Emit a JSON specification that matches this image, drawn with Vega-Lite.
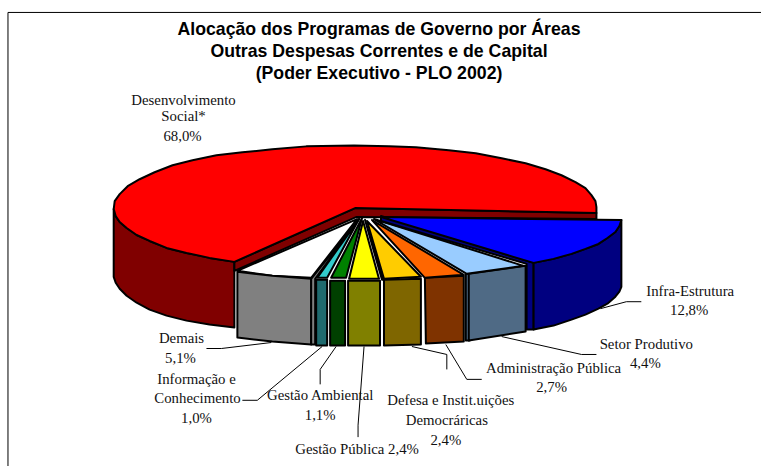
{
"$schema":"https://vega.github.io/schema/vega-lite/v6.json",
"width":763,"height":468,"padding":0,"autosize":{"type":"fit","contains":"padding"},
"background":"white","view":{"stroke":null},
"datasets":{
"faces":[
{"f":"Social lateral","o":1,"x":114,"y":210},{"f":"Social lateral","o":2,"x":116,"y":217},{"f":"Social lateral","o":3,"x":120,"y":223},{"f":"Social lateral","o":4,"x":127,"y":229},{"f":"Social lateral","o":5,"x":137,"y":236},{"f":"Social lateral","o":6,"x":150,"y":242},{"f":"Social lateral","o":7,"x":167,"y":249},{"f":"Social lateral","o":8,"x":187,"y":254},{"f":"Social lateral","o":9,"x":210,"y":259},{"f":"Social lateral","o":10,"x":235,"y":263},{"f":"Social lateral","o":11,"x":235,"y":329},{"f":"Social lateral","o":12,"x":210,"y":326},{"f":"Social lateral","o":13,"x":187,"y":322},{"f":"Social lateral","o":14,"x":167,"y":317},{"f":"Social lateral","o":15,"x":150,"y":311},{"f":"Social lateral","o":16,"x":137,"y":304},{"f":"Social lateral","o":17,"x":127,"y":297},{"f":"Social lateral","o":18,"x":120,"y":290},{"f":"Social lateral","o":19,"x":116,"y":284},{"f":"Social lateral","o":20,"x":114,"y":278},
{"f":"Social corte","o":1,"x":356,"y":209},{"f":"Social corte","o":2,"x":598,"y":214},{"f":"Social corte","o":3,"x":598,"y":220},{"f":"Social corte","o":4,"x":357,"y":218},{"f":"Social corte","o":5,"x":235,"y":272},{"f":"Social corte","o":6,"x":235,"y":263},
{"f":"Social topo","o":1,"x":356,"y":209},{"f":"Social topo","o":2,"x":598,"y":214},{"f":"Social topo","o":3,"x":598,"y":208},{"f":"Social topo","o":4,"x":597,"y":202},{"f":"Social topo","o":5,"x":593,"y":196},{"f":"Social topo","o":6,"x":587,"y":189},{"f":"Social topo","o":7,"x":577,"y":183},{"f":"Social topo","o":8,"x":563,"y":176},{"f":"Social topo","o":9,"x":547,"y":170},{"f":"Social topo","o":10,"x":527,"y":164},{"f":"Social topo","o":11,"x":503,"y":159},{"f":"Social topo","o":12,"x":477,"y":154},{"f":"Social topo","o":13,"x":450,"y":151},{"f":"Social topo","o":14,"x":417,"y":148},{"f":"Social topo","o":15,"x":390,"y":147},{"f":"Social topo","o":16,"x":355,"y":146},{"f":"Social topo","o":17,"x":307,"y":147},{"f":"Social topo","o":18,"x":273,"y":150},{"f":"Social topo","o":19,"x":243,"y":153},{"f":"Social topo","o":20,"x":217,"y":156},{"f":"Social topo","o":21,"x":193,"y":161},{"f":"Social topo","o":22,"x":173,"y":166},{"f":"Social topo","o":23,"x":155,"y":173},{"f":"Social topo","o":24,"x":140,"y":180},{"f":"Social topo","o":25,"x":128,"y":187},{"f":"Social topo","o":26,"x":120,"y":195},{"f":"Social topo","o":27,"x":115,"y":202},{"f":"Social topo","o":28,"x":114,"y":210},{"f":"Social topo","o":29,"x":116,"y":217},{"f":"Social topo","o":30,"x":120,"y":223},{"f":"Social topo","o":31,"x":127,"y":229},{"f":"Social topo","o":32,"x":137,"y":236},{"f":"Social topo","o":33,"x":150,"y":242},{"f":"Social topo","o":34,"x":167,"y":249},{"f":"Social topo","o":35,"x":187,"y":254},{"f":"Social topo","o":36,"x":210,"y":259},{"f":"Social topo","o":37,"x":235,"y":263},
{"f":"Demais topo","o":1,"x":358,"y":220},{"f":"Demais topo","o":2,"x":312,"y":279},{"f":"Demais topo","o":3,"x":273,"y":277},{"f":"Demais topo","o":4,"x":238,"y":272},
{"f":"Demais lateral","o":1,"x":238,"y":273},{"f":"Demais lateral","o":2,"x":273,"y":277},{"f":"Demais lateral","o":3,"x":312,"y":280},{"f":"Demais lateral","o":4,"x":312,"y":346},{"f":"Demais lateral","o":5,"x":273,"y":343},{"f":"Demais lateral","o":6,"x":238,"y":339},
{"f":"Demais corte","o":1,"x":360,"y":220},{"f":"Demais corte","o":2,"x":316,"y":280},{"f":"Demais corte","o":3,"x":316,"y":346},{"f":"Demais corte","o":4,"x":312,"y":346},{"f":"Demais corte","o":5,"x":312,"y":280},
{"f":"Informacao lateral","o":1,"x":317,"y":281},{"f":"Informacao lateral","o":2,"x":328,"y":281},{"f":"Informacao lateral","o":3,"x":328,"y":347},{"f":"Informacao lateral","o":4,"x":317,"y":347},
{"f":"Informacao topo","o":1,"x":360,"y":220},{"f":"Informacao topo","o":2,"x":328,"y":279},{"f":"Informacao topo","o":3,"x":318,"y":279},
{"f":"Ambiental lateral","o":1,"x":331,"y":282},{"f":"Ambiental lateral","o":2,"x":346,"y":282},{"f":"Ambiental lateral","o":3,"x":346,"y":347},{"f":"Ambiental lateral","o":4,"x":331,"y":347},
{"f":"Ambiental topo","o":1,"x":363,"y":219},{"f":"Ambiental topo","o":2,"x":347,"y":279},{"f":"Ambiental topo","o":3,"x":332,"y":279},
{"f":"Publica lateral","o":1,"x":349,"y":282},{"f":"Publica lateral","o":2,"x":381,"y":282},{"f":"Publica lateral","o":3,"x":381,"y":347},{"f":"Publica lateral","o":4,"x":349,"y":347},
{"f":"Publica topo","o":1,"x":364,"y":222},{"f":"Publica topo","o":2,"x":380,"y":280},{"f":"Publica topo","o":3,"x":350,"y":280},
{"f":"Defesa corte","o":1,"x":366,"y":221},{"f":"Defesa corte","o":2,"x":385,"y":281},{"f":"Defesa corte","o":3,"x":383,"y":281},
{"f":"Defesa lateral","o":1,"x":385,"y":281},{"f":"Defesa lateral","o":2,"x":422,"y":280},{"f":"Defesa lateral","o":3,"x":422,"y":346},{"f":"Defesa lateral","o":4,"x":385,"y":347},
{"f":"Defesa topo","o":1,"x":368,"y":222},{"f":"Defesa topo","o":2,"x":422,"y":278},{"f":"Defesa topo","o":3,"x":385,"y":280},
{"f":"Administracao lateral","o":1,"x":426,"y":279},{"f":"Administracao lateral","o":2,"x":465,"y":277},{"f":"Administracao lateral","o":3,"x":465,"y":343},{"f":"Administracao lateral","o":4,"x":427,"y":345},
{"f":"Administracao topo","o":1,"x":373,"y":221},{"f":"Administracao topo","o":2,"x":465,"y":276},{"f":"Administracao topo","o":3,"x":426,"y":279},
{"f":"Produtivo corte","o":1,"x":467,"y":275},{"f":"Produtivo corte","o":2,"x":471,"y":275},{"f":"Produtivo corte","o":3,"x":471,"y":342},{"f":"Produtivo corte","o":4,"x":467,"y":342},
{"f":"Produtivo lateral","o":1,"x":470,"y":275},{"f":"Produtivo lateral","o":2,"x":527,"y":267},{"f":"Produtivo lateral","o":3,"x":527,"y":333},{"f":"Produtivo lateral","o":4,"x":470,"y":342},
{"f":"Produtivo topo","o":1,"x":375,"y":220},{"f":"Produtivo topo","o":2,"x":525,"y":267},{"f":"Produtivo topo","o":3,"x":468,"y":275},
{"f":"Infra corte","o":1,"x":382,"y":217},{"f":"Infra corte","o":2,"x":535,"y":264},{"f":"Infra corte","o":3,"x":535,"y":331},{"f":"Infra corte","o":4,"x":528,"y":331},{"f":"Infra corte","o":5,"x":528,"y":265},{"f":"Infra corte","o":6,"x":382,"y":222},
{"f":"Infra lateral","o":1,"x":535,"y":264},{"f":"Infra lateral","o":2,"x":555,"y":260},{"f":"Infra lateral","o":3,"x":573,"y":255},{"f":"Infra lateral","o":4,"x":587,"y":250},{"f":"Infra lateral","o":5,"x":600,"y":245},{"f":"Infra lateral","o":6,"x":609,"y":239},{"f":"Infra lateral","o":7,"x":617,"y":233},{"f":"Infra lateral","o":8,"x":621,"y":227},{"f":"Infra lateral","o":9,"x":623,"y":221},{"f":"Infra lateral","o":10,"x":623,"y":288},{"f":"Infra lateral","o":11,"x":621,"y":293},{"f":"Infra lateral","o":12,"x":617,"y":298},{"f":"Infra lateral","o":13,"x":609,"y":305},{"f":"Infra lateral","o":14,"x":600,"y":310},{"f":"Infra lateral","o":15,"x":587,"y":316},{"f":"Infra lateral","o":16,"x":573,"y":321},{"f":"Infra lateral","o":17,"x":555,"y":327},{"f":"Infra lateral","o":18,"x":535,"y":331},
{"f":"Infra topo","o":1,"x":382,"y":218},{"f":"Infra topo","o":2,"x":623,"y":221},{"f":"Infra topo","o":3,"x":621,"y":227},{"f":"Infra topo","o":4,"x":617,"y":233},{"f":"Infra topo","o":5,"x":609,"y":239},{"f":"Infra topo","o":6,"x":600,"y":245},{"f":"Infra topo","o":7,"x":587,"y":250},{"f":"Infra topo","o":8,"x":573,"y":255},{"f":"Infra topo","o":9,"x":555,"y":260},{"f":"Infra topo","o":10,"x":535,"y":264}
],
"guias":[
{"g":"moldura","o":1,"x":8,"y":468},{"g":"moldura","o":2,"x":8,"y":12.5},{"g":"moldura","o":3,"x":763,"y":12.5},
{"g":"Demais","o":1,"x":207,"y":350},{"g":"Demais","o":2,"x":222,"y":350},{"g":"Demais","o":3,"x":272,"y":344},
{"g":"Informacao","o":1,"x":243,"y":402},{"g":"Informacao","o":2,"x":258,"y":402},{"g":"Informacao","o":3,"x":323,"y":348},
{"g":"Ambiental","o":1,"x":321,"y":386},{"g":"Ambiental","o":2,"x":321,"y":371},{"g":"Ambiental","o":3,"x":337,"y":348},
{"g":"Publica","o":1,"x":359,"y":439},{"g":"Publica","o":2,"x":359,"y":427},{"g":"Publica","o":3,"x":365,"y":348},
{"g":"Defesa","o":1,"x":448,"y":371},{"g":"Defesa","o":2,"x":448,"y":356},{"g":"Defesa","o":3,"x":413,"y":348},
{"g":"Administracao","o":1,"x":483,"y":381},{"g":"Administracao","o":2,"x":468,"y":381},{"g":"Administracao","o":3,"x":447,"y":346},
{"g":"Produtivo","o":1,"x":598,"y":356},{"g":"Produtivo","o":2,"x":583,"y":356},{"g":"Produtivo","o":3,"x":503,"y":338},
{"g":"Infra","o":1,"x":643,"y":303},{"g":"Infra","o":2,"x":628,"y":303},{"g":"Infra","o":3,"x":602,"y":310}
],
"rotulos":[
{"t":"Desenvolvimento","x":184,"y":101},{"t":"Social*","x":184,"y":118},{"t":"68,0%","x":183,"y":138},
{"t":"Demais","x":182,"y":340},{"t":"5,1%","x":181,"y":361},
{"t":"Informação e","x":197,"y":382},{"t":"Conhecimento","x":198,"y":401},{"t":"1,0%","x":197,"y":421},
{"t":"Gestão Ambiental","x":321,"y":398},{"t":"1,1%","x":321,"y":418},
{"t":"Gestão Pública 2,4%","x":358,"y":452},
{"t":"Defesa e Instit.uições","x":452,"y":403},{"t":"Democráricas","x":448,"y":423},{"t":"2,4%","x":447,"y":443},
{"t":"Administração Pública","x":555,"y":371},{"t":"2,7%","x":553,"y":390},
{"t":"Setor Produtivo","x":648,"y":346},{"t":"4,4%","x":647,"y":366},
{"t":"Infra-Estrutura","x":692,"y":293},{"t":"12,8%","x":691,"y":312}
],
"titulo":[
{"t":"Alocação dos Programas de Governo por Áreas","x":380,"y":30},
{"t":"Outras Despesas Correntes e de Capital","x":380,"y":52},
{"t":"(Poder Executivo - PLO 2002)","x":380,"y":74}
]
},
"layer":[
{"data":{"name":"guias"},"mark":{"type":"line","stroke":"black","strokeWidth":1,"clip":false},
 "encoding":{"x":{"field":"x","type":"quantitative","scale":{"domain":[0,763],"nice":false,"zero":false},"axis":null},
 "y":{"field":"y","type":"quantitative","scale":{"domain":[468,0],"nice":false,"zero":false},"axis":null},
 "detail":{"field":"g"},"order":{"field":"o"},
 "strokeWidth":{"condition":{"test":"datum.g==='moldura'","value":1.5},"value":1}}},
{"data":{"name":"faces"},"mark":{"type":"line","filled":true,"interpolate":"linear-closed","stroke":"black","strokeWidth":2,"strokeJoin":"round","point":false},
 "encoding":{"x":{"field":"x","type":"quantitative","scale":{"domain":[0,763],"nice":false,"zero":false},"axis":null},
 "y":{"field":"y","type":"quantitative","scale":{"domain":[468,0],"nice":false,"zero":false},"axis":null},
 "order":{"field":"o"},
 "color":{"field":"f","type":"nominal","legend":null,"sort":null,"scale":{
  "domain":["Social lateral","Social corte","Social topo","Demais topo","Demais lateral","Demais corte","Informacao lateral","Informacao topo","Ambiental lateral","Ambiental topo","Publica lateral","Publica topo","Defesa corte","Defesa lateral","Defesa topo","Administracao lateral","Administracao topo","Produtivo corte","Produtivo lateral","Produtivo topo","Infra corte","Infra lateral","Infra topo"],
  "range":["#800000","#800000","#FF0000","#FFFFFF","#808080","#808080","#1F6A6E","#33CCCC","#004000","#008000","#808000","#FFFF00","#7F6600","#7F6600","#FFCC00","#7F3300","#FF6600","#4F6A85","#4F6A85","#99CCFF","#000080","#000080","#0000FF"]}}}},
{"data":{"name":"rotulos"},"mark":{"type":"text","font":"Liberation Serif","fontSize":14.8,"align":"center","baseline":"middle","color":"#111111"},
 "encoding":{"x":{"field":"x","type":"quantitative","scale":{"domain":[0,763],"nice":false,"zero":false},"axis":null},
 "y":{"field":"y","type":"quantitative","scale":{"domain":[468,0],"nice":false,"zero":false},"axis":null},
 "text":{"field":"t"}}},
{"data":{"name":"titulo"},"mark":{"type":"text","font":"Liberation Sans","fontWeight":"bold","fontSize":17.7,"align":"center","baseline":"middle","color":"black"},
 "encoding":{"x":{"field":"x","type":"quantitative","scale":{"domain":[0,763],"nice":false,"zero":false},"axis":null},
 "y":{"field":"y","type":"quantitative","scale":{"domain":[468,0],"nice":false,"zero":false},"axis":null},
 "text":{"field":"t"}}}
],
"resolve":{"scale":{"color":"independent"}}
}
